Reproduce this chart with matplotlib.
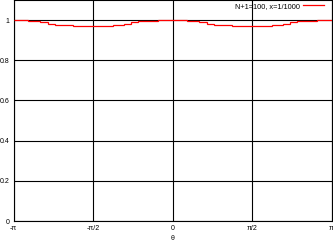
import numpy as np
import matplotlib
matplotlib.use('Agg')
import matplotlib.pyplot as plt

# step edges in units of pi, and the level between consecutive edges
edges_pi = [-1.0, -0.906, -0.836, -0.780, -0.736, -0.623, -0.377, -0.308, -0.264, -0.214, -0.094,
            0.094, 0.164, 0.220, 0.264, 0.377, 0.623, 0.692, 0.736, 0.786, 0.906, 1.0]
levels = [1.0, 0.9965, 0.9885, 0.9815, 0.975, 0.9685, 0.975, 0.9815, 0.9885, 0.995, 1.0,
          0.9965, 0.9885, 0.9815, 0.975, 0.9685, 0.975, 0.9815, 0.9885, 0.995, 1.0]

xtick_pos = [-np.pi, -np.pi / 2, 0, np.pi / 2, np.pi]
xtick_labels = ['-π', '-π/2', '0', 'π/2', 'π']
ytick_pos = [0, 0.2, 0.4, 0.6, 0.8, 1]
ytick_labels = ['0', '0.2', '0.4', '0.6', '0.8', '1']
series_label = 'N+1=100, x=1/1000'

plt.rcParams['font.family'] = ['Liberation Sans', 'DejaVu Sans']
plt.rcParams['font.size'] = 5

fig = plt.figure(figsize=(3.33, 2.41), dpi=100)
ax = fig.add_axes([13.5 / 333, 20 / 241, 318 / 333, 221 / 241])

edges = np.array(edges_pi) * np.pi
ax.grid(True, color='black', linewidth=0.8)
ax.set_axisbelow(True)
ax.stairs(levels, edges, color='red', linewidth=0.9, baseline=None, label=series_label, zorder=3)

ax.set_xlim(-np.pi, np.pi)
ax.set_ylim(0, 1.1)
ax.set_xticks(xtick_pos, xtick_labels)
ax.set_yticks(ytick_pos, ytick_labels)
ax.tick_params(length=0, pad=3)
ax.set_xlabel('θ', labelpad=2)
for s in ax.spines.values():
    s.set_linewidth(0.8)

leg = ax.legend(loc='center right', bbox_to_anchor=(1 - 8 / 318, 1 - 6 / 221), frameon=False,
                handlelength=2.8, handletextpad=0.4, borderaxespad=0, borderpad=0,
                markerfirst=False, fontsize=5.3)
plt.savefig('out.png', dpi=100)
